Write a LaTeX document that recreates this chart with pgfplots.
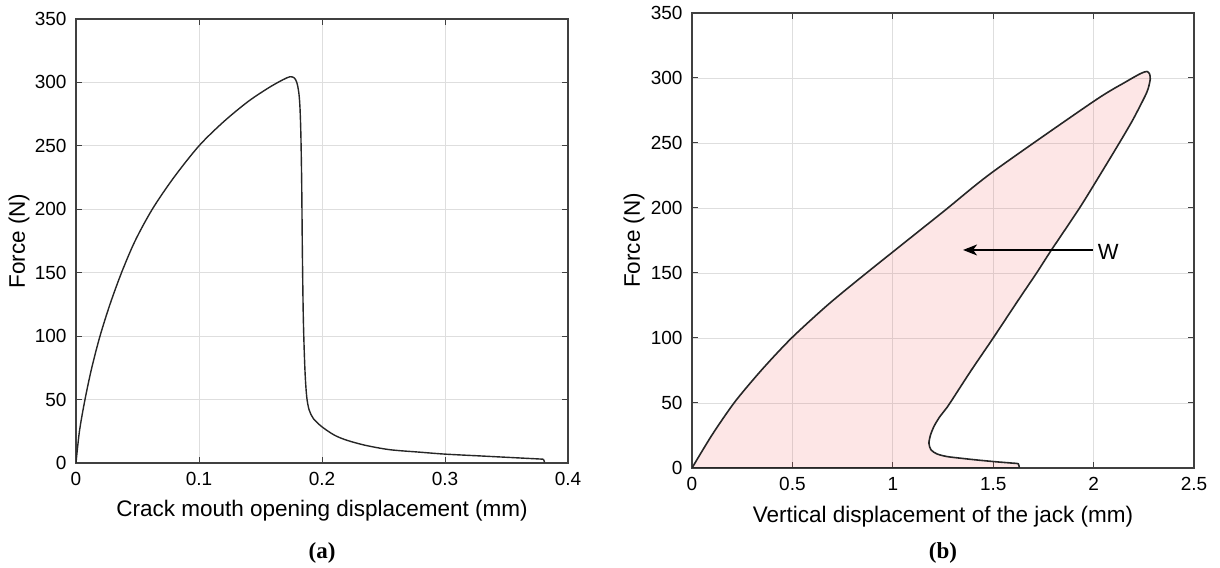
\documentclass[border=0pt]{standalone}
\usepackage{fontspec}
\setmainfont{Liberation Sans}
\newfontfamily\capfont{Liberation Serif}
\usepackage{pgfplots}
\pgfplotsset{compat=1.18}
\usetikzlibrary{arrows.meta}
\begin{document}
\begin{tikzpicture}
\path[use as bounding box] (0bp,0bp) rectangle (1220bp,568bp);
\pgfplotsset{
  mystyle/.style={
    scale only axis, anchor=south west,
    axis line style={draw=black!75, line width=1.3bp},
    grid=major, grid style={draw=black!13, line width=0.8bp},
    tick style={draw=black!75, line width=1bp},
    major tick length=6bp, tick align=inside,
    xtick pos=both, ytick pos=both,
    ticklabel style={font=\fontsize{19bp}{21bp}\selectfont},
    yticklabel style={xshift=-6bp},
    xticklabel style={yshift=-6bp},
    /pgf/number format/assume math mode=true,
    ymin=0, ymax=350, ytick={0,50,100,150,200,250,300,350},
    every axis x label/.style={at={(axis description cs:0.5,0)}, anchor=center,
      font=\fontsize{22.5bp}{24bp}\selectfont},
    every axis y label/.style={at={(axis description cs:0,0.5)}, anchor=center, rotate=90,
      font=\fontsize{22.5bp}{24bp}\selectfont},
  }
}
% ---------- (a) ----------
\begin{axis}[mystyle, at={(76bp,105bp)}, width=492bp, height=444bp,
  xmin=0, xmax=0.4, xtick={0,0.1,0.2,0.3,0.4},
  xticklabels={0,0.1,0.2,0.3,0.4},
  xlabel={Crack mouth opening displacement (mm)},
  xlabel style={yshift=-48bp},
  ylabel={Force (N)}, ylabel style={yshift=57bp}]
\addplot[draw=black!85, line width=1.4bp, smooth, tension=0.5] coordinates {
(0,0) (0.0028,25) (0.0073,50) (0.0128,75) (0.0195,100) (0.0276,125) (0.037,150)
(0.048,175) (0.062,200) (0.0795,225) (0.1,250) (0.12,269) (0.14,285)
(0.157,296) (0.168,302) (0.174,304.5) (0.1775,303.5) (0.1795,300)
(0.181,293) (0.182,282) (0.1828,260) (0.1835,220) (0.184,170) (0.1847,120)
(0.1855,90) (0.1864,68) (0.1876,52) (0.1895,42) (0.193,35) (0.2,28.5) (0.21,22)
(0.22,18) (0.235,14) (0.255,10.5) (0.28,8.5) (0.3,7) (0.33,5.5) (0.36,4) (0.38,3)
};
\addplot[draw=black!85, line width=1.4bp] coordinates {(0.38,3) (0.381,0.5)};
\end{axis}
% ---------- (b) ----------
\begin{axis}[mystyle, at={(692bp,100bp)}, width=502bp, height=455bp,
  xmin=0, xmax=2.5, xtick={0,0.5,1,1.5,2,2.5},
  xticklabels={0,0.5,1,1.5,2,2.5},
  xlabel={Vertical displacement of the jack (mm)},
  xlabel style={yshift=-49bp},
  ylabel={Force (N)}, ylabel style={yshift=58bp}]
\addplot[draw=black!85, line width=1.6bp, smooth, tension=0.45,
  fill={rgb,255:red,240;green,100;blue,100}, fill opacity=0.16] coordinates {
(0,0) (0.1,25.5) (0.214,51) (0.35,76) (0.496,100) (0.68,126) (0.877,151)
(1.25,197) (1.5,228) (2.0,282)
(2.16,297) (2.235,303.5) (2.266,305) (2.279,303) (2.282,299) (2.272,292)
(2.256,286) (2.196,268) (2.128,250) (2.03,225) (1.93,200) (1.787,167) (1.716,150)
(1.62,128) (1.50,100) (1.39,75) (1.285,50) (1.262,45) (1.232,39) (1.205,32)
(1.187,25) (1.18,19) (1.19,14) (1.22,10.8) (1.27,8.8) (1.35,7.3) (1.43,6)
(1.52,4.7) (1.6,3.7) (1.625,3.2) (1.63,0)
} -- cycle;
\draw[black, line width=1.1bp, -{Stealth[length=14bp,width=11bp,inset=4bp]}]
  (axis cs:1.995,167.7) -- (axis cs:1.35,167.7);
\node[anchor=west, inner sep=0pt, font=\fontsize{22bp}{24bp}\selectfont]
  at (axis cs:2.02,166) {W};
\end{axis}
\node[font=\capfont\bfseries\fontsize{23bp}{25bp}\selectfont] at (322bp,15bp) {(a)};
\node[font=\capfont\bfseries\fontsize{23bp}{25bp}\selectfont] at (943bp,15bp) {(b)};
\end{tikzpicture}
\end{document}
